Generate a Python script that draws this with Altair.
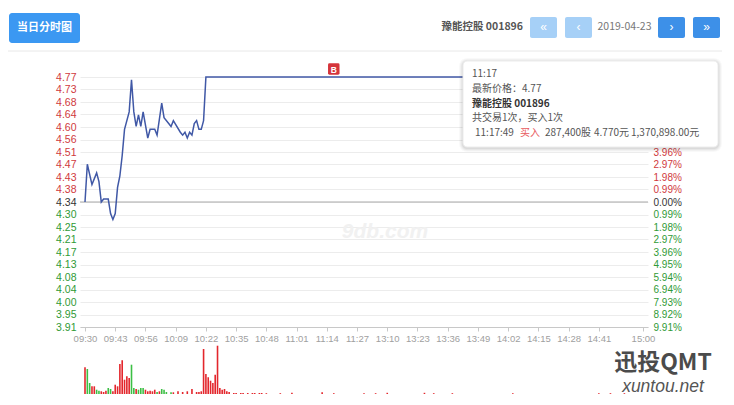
import altair as alt
import pandas as pd

# ---------------- data ----------------
price_minutes = [0, 1, 3, 5, 6, 7, 8, 10, 11, 12, 13, 14, 15, 16, 17, 19, 20, 21, 22, 23, 24, 25,
                 27, 28, 30, 31, 33, 34, 36, 37, 38, 41, 42, 43, 44, 45, 46, 47, 48, 49, 50, 51,
                 52, 240]
price_values = [4.34, 4.47, 4.40, 4.44, 4.41, 4.34, 4.35, 4.35, 4.30, 4.28, 4.30, 4.39, 4.43,
                4.50, 4.59, 4.65, 4.76, 4.65, 4.60, 4.64, 4.60, 4.65, 4.56, 4.59, 4.59, 4.57,
                4.68, 4.63, 4.61, 4.60, 4.62, 4.58, 4.57, 4.58, 4.56, 4.58, 4.57, 4.61, 4.62,
                4.59, 4.59, 4.62, 4.77, 4.77]

vol_minutes = [0, 1, 2, 3, 4, 5, 6, 7, 8, 9, 10, 11, 12, 13, 14, 15, 16, 17, 18, 19, 20, 21, 22,
               23, 24, 25, 26, 27, 28, 29, 30, 31, 32, 33, 34, 35, 37, 38, 40, 42, 44, 46, 48,
               49, 50, 51, 52, 53, 54, 55, 56, 57, 58, 59, 60, 61, 62, 64, 65, 67, 68, 70, 72,
               73, 75, 76, 78, 84, 89, 102, 107, 120, 125, 130, 146, 150, 158, 184, 221, 226, 232]
vol_values = [2670, 2500, 1100, 770, 770, 430, 330, 270, 200, 330, 600, 500, 270, 930, 770,
              3000, 3370, 1430, 1770, 1600, 2930, 600, 500, 430, 600, 600, 430, 270, 330, 270,
              430, 200, 270, 500, 430, 200, 170, 170, 270, 200, 270, 500, 200, 200, 270, 4500,
              2000, 1670, 1330, 1100, 1930, 4830, 600, 430, 500, 270, 200, 100, 100, 100, 100,
              100, 100, 100, 100, 100, 80, 80, 120, 180, 80, 80, 80, 120, 120, 80, 80,
              80, 80, 80, 80]
vol_dirs = ["up", "down", "down", "up", "up", "down", "down", "up", "up", "up", "down", "down",
            "up", "up", "up", "up", "up", "up", "up", "up", "down", "down", "up", "down", "down",
            "down", "up", "up", "up", "up", "up", "down", "up", "down", "down", "down", "down",
            "up", "up", "up", "up", "up", "up", "up", "up", "up", "up", "up", "up", "up", "up",
            "up", "up", "up", "up", "up", "up", "up", "up", "up", "up", "up", "up", "up", "up",
            "up", "up", "up", "up", "up", "up", "up", "up", "up", "up", "up", "up", "up", "up",
            "up", "up"]

time_ticks = [0, 13, 26, 39, 52, 65, 78, 91, 104, 117, 130, 143, 156, 169, 182, 195, 208, 221, 240]
time_labels = ["09:30", "09:43", "09:56", "10:09", "10:22", "10:35", "10:48", "11:01", "11:14",
               "11:27", "13:10", "13:23", "13:36", "13:49", "14:02", "14:15", "14:28", "14:41",
               "15:00"]

price_ticks = [3.91, 3.953, 3.996, 4.039, 4.082, 4.125, 4.168, 4.211, 4.254, 4.297, 4.34,
               4.383, 4.426, 4.469, 4.512, 4.555, 4.598, 4.641, 4.684, 4.727, 4.77]
price_labels = ["3.91", "3.95", "4.00", "4.04", "4.08", "4.13", "4.17", "4.21", "4.25", "4.30",
                "4.34", "4.38", "4.43", "4.47", "4.51", "4.56", "4.60", "4.64", "4.68", "4.73",
                "4.77"]
pct_labels = ["9.91%", "8.92%", "7.93%", "6.94%", "5.94%", "4.95%", "3.96%", "2.97%", "1.98%",
              "0.99%", "0.00%", "0.99%", "1.98%", "2.97%", "3.96%", "4.95%", "5.94%", "6.94%",
              "7.93%", "8.92%", "9.91%"]

pre_close = 4.34
trade_minute = [107]
trade_price = [4.77]
trade_flag = ["B"]

# ---------------- style ----------------
RED = "#d0393d"
GREEN = "#2f9a36"
FONT = "Liberation Sans"
CJK = "Noto Sans CJK SC"
W, H = 568, 250

price_df = pd.DataFrame({"m": price_minutes, "p": price_values})
vol_df = pd.DataFrame({"m": vol_minutes, "v": vol_values, "d": vol_dirs})
trade_df = pd.DataFrame({"m": trade_minute, "p": trade_price, "f": trade_flag})
one = pd.DataFrame({"k": [0]})

xscale = alt.Scale(domain=[0, 240], nice=False, zero=False)
yscale = alt.Scale(domain=[3.91, 4.77], nice=False, zero=False)


def arr(lst):
    return "[" + ",".join("'" + s + "'" for s in lst) + "]"


x_axis = alt.Axis(values=time_ticks, title=None, grid=False,
                  labelExpr=arr(time_labels) + "[indexof(" + str(time_ticks) + ", datum.value)]",
                  domainColor="#c8c8c8", tickColor="#c8c8c8", tickSize=4,
                  labelColor="#a0a0a0", labelFont=FONT, labelFontSize=9.5, labelPadding=2,
                  labelFlush=False, labelOverlap=False)
X = alt.X("m:Q", scale=xscale, axis=x_axis)

color_cond = {"condition": [{"test": "datum.value > 4.345", "value": RED},
                            {"test": "datum.value < 4.335", "value": GREEN}],
              "value": "#333333"}

left_axis = alt.Axis(orient="left", values=price_ticks, title=None, domain=False, ticks=False,
                     grid=True, gridColor="#ececec", gridWidth=1,
                     labelExpr=arr(price_labels) + "[round((datum.value-3.91)/0.043)]",
                     labelColor=color_cond, labelFont=FONT, labelFontSize=10.5, labelPadding=4,
                     labelOverlap=False, labelFlush=False)
# the upper percentage labels sit under the tooltip box in the reference
right_axis = alt.Axis(orient="right", values=price_ticks, title=None, domain=False, ticks=False,
                      grid=False,
                      labelExpr="datum.value > 4.53 ? '' : " + arr(pct_labels)
                      + "[round((datum.value-3.91)/0.043)]",
                      labelColor=color_cond, labelFont=FONT, labelFontSize=10, labelPadding=5,
                      labelOverlap=False, labelFlush=False)

line = alt.Chart(price_df).mark_line(color="#4058a6", strokeWidth=1.5).encode(
    x=X, y=alt.Y("p:Q", scale=yscale, axis=left_axis))

base_rule = alt.Chart(one).mark_rule(color="#a9a9a9", strokeWidth=1).encode(
    y=alt.Y(datum=pre_close, scale=yscale, axis=right_axis))

vol = alt.Chart(vol_df).mark_bar(width=1.6).encode(
    x=X,
    y=alt.Y("v:Q", scale=alt.Scale(domain=[0, 5000], range=[317, 267], nice=False), axis=None),
    color=alt.Color("d:N", scale=alt.Scale(domain=["up", "down"], range=["#e3262c", "#3cbf45"]),
                    legend=None))

rr = "M-0.75,-1L0.75,-1Q1,-1 1,-0.75L1,0.75Q1,1 0.75,1L-0.75,1Q-1,1 -1,0.75L-1,-0.75Q-1,-1 -0.75,-1Z"
marker = alt.Chart(trade_df).mark_point(shape=rr, filled=True, fill="#d5343b", opacity=1,
                                        size=132, yOffset=-8, strokeWidth=0).encode(
    x=X, y=alt.Y("p:Q", scale=yscale, axis=None))
marker_txt = alt.Chart(trade_df).mark_text(color="white", fontSize=8.5, fontWeight="bold",
                                           font=FONT, yOffset=-7.5, baseline="middle").encode(
    x=X, y=alt.Y("p:Q", scale=yscale, axis=None), text="f:N")


def rect(x1, x2, y1, y2, fill, stroke=None, r=0, op=1.0):
    kw = dict(fill=fill, cornerRadius=r, opacity=op)
    if stroke:
        kw.update(stroke=stroke, strokeWidth=1)
    return alt.Chart(one).mark_rect(**kw).encode(
        x=alt.value(x1), x2=alt.value(x2), y=alt.value(y1), y2=alt.value(y2))


def text(s, x, y, size=10.5, color="#555", align="left", weight="normal", font=CJK,
         italic=False):
    kw = dict(text=s, fontSize=size, color=color, align=align, baseline="middle",
              fontWeight=weight, font=font)
    if italic:
        kw["fontStyle"] = "italic"
    return alt.Chart(one).mark_text(**kw).encode(x=alt.value(x), y=alt.value(y))


deco = []
# header
deco.append(rect(-71, 0, -64, -34, "#3b98f2", r=3))
deco.append(text("当日分时图", -35.5, -49, size=11, color="white", align="center", weight="bold"))
deco.append(alt.Chart(one).mark_rule(color="#e8e8e8").encode(
    x=alt.value(-72), x2=alt.value(642), y=alt.value(-26)))
deco.append(text("豫能控股 001896", 443, -50, size=10.5, color="#555", align="right",
                 weight="bold"))
for (a, b, col, g) in [(450, 477, "#a6d0f7", "«"), (485, 512, "#a6d0f7", "‹"),
                       (578, 605, "#3d90e8", "›"), (613, 640, "#3d90e8", "»")]:
    deco.append(rect(a, b, -60, -39, col, r=2))
    deco.append(text(g, (a + b) / 2, -50, size=12, color="white", align="center", font=FONT))
deco.append(text("2019-04-23", 544.5, -50, size=10.5, color="#777", align="center"))

# watermarks
deco.append(text("9db.com", 305, 155, size=21, color="#f1f1f1", align="center", weight="bold",
                 font=FONT, italic=True))
deco.append(text("迅投QMT", 583, 286, size=23, color="#4b4b4b", align="center", weight="bold"))
deco.append(text("xuntou.net", 583, 309.5, size=17.5, color="#555", align="center", font=FONT,
                 italic=True))

# tooltip
for i, op in [(4, 0.025), (3, 0.03), (2, 0.04), (1, 0.05)]:
    deco.append(rect(383 - i, 638 + i, -16 - i + 1, 70 + i + 1, "#000000", r=4 + i, op=op))
deco.append(rect(383, 638, -16, 70, "white", stroke="#ececec", r=4))
deco.append(text("11:17", 392, -3, size=10, color="#555"))
deco.append(text("最新价格：4.77", 392, 12, size=10, color="#555"))
deco.append(text("豫能控股 001896", 392, 26.5, size=10, color="#333", weight="bold"))
deco.append(text("共交易1次，买入1次", 392, 41, size=10, color="#555"))
deco.append(text("11:17:49", 395, 56, size=10, color="#555"))
deco.append(text("买入", 440, 56, size=10, color="#e8595c"))
deco.append(text("287,400股", 465, 56, size=10, color="#555"))
deco.append(text("4.770元", 514, 56, size=10, color="#555"))
deco.append(text("1,370,898.00元", 551, 56, size=10, color="#555"))

chart = alt.layer(base_rule, line, vol, marker, marker_txt, *deco).resolve_scale(
    y="independent", color="independent"
).properties(
    width=W, height=H,
    autosize=alt.AutoSizeParams(type="none"),
    padding={"left": 72, "top": 69, "right": 78, "bottom": 70},
    background="white",
).configure_view(stroke=None)

chart.save("out.html", embed_options={"renderer": "svg", "actions": False})
